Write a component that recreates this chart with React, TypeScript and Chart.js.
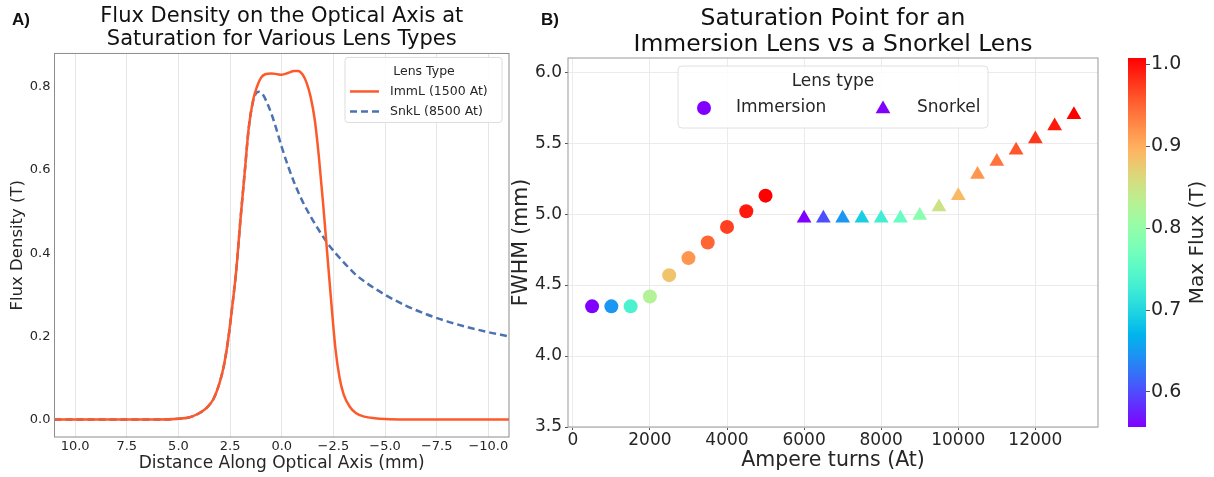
import React, { useEffect, useRef } from 'react';
import { Chart, registerables } from 'chart.js';
Chart.register(...registerables);

const FONT = "'DejaVu Sans', 'Noto Sans', sans-serif";
Chart.defaults.font.family = FONT;

// ---------- Panel A: flux density along the optical axis ----------
const immlX = [11, 9, 7, 6, 5, 4.5, 4.0, 3.6, 3.3, 3.0, 2.8, 2.6, 2.4, 2.2, 2.0, 1.8, 1.6, 1.4, 1.2, 1.0, 0.8, 0.5, 0.2, 0.0, -0.3, -0.6, -0.8, -1.0, -1.2, -1.4, -1.6, -1.8, -2.0, -2.2, -2.4, -2.6, -2.8, -3.0, -3.3, -3.6, -4.0, -4.5, -5.0, -6.0, -8.0, -11];
const immlY = [0, 0, 0, 0, 0.002, 0.005, 0.015, 0.03, 0.05, 0.09, 0.13, 0.19, 0.27, 0.36, 0.48, 0.59, 0.70, 0.765, 0.80, 0.822, 0.83, 0.832, 0.83, 0.829, 0.833, 0.838, 0.838, 0.83, 0.81, 0.775, 0.72, 0.63, 0.52, 0.40, 0.28, 0.17, 0.10, 0.06, 0.03, 0.015, 0.007, 0.003, 0.001, 0, 0, 0];
const snklX = [11, 9, 7, 6, 5, 4.5, 4.0, 3.6, 3.3, 3.0, 2.8, 2.6, 2.4, 2.2, 2.0, 1.8, 1.6, 1.4, 1.25, 1.1, 0.9, 0.7, 0.5, 0.3, 0.0, -0.3, -0.6, -1.0, -1.4, -1.8, -2.2, -2.6, -3.0, -3.5, -4.0, -5.0, -6.0, -7.0, -8.0, -9.0, -10.0, -11];
const snklY = [0, 0, 0, 0, 0.002, 0.005, 0.015, 0.03, 0.05, 0.09, 0.13, 0.19, 0.27, 0.36, 0.48, 0.59, 0.70, 0.762, 0.784, 0.788, 0.78, 0.76, 0.735, 0.705, 0.655, 0.61, 0.57, 0.525, 0.488, 0.455, 0.425, 0.40, 0.378, 0.352, 0.332, 0.30, 0.274, 0.253, 0.236, 0.222, 0.21, 0.2];
const fluxXTicks = [-10, -7.5, -5, -2.5, 0, 2.5, 5, 7.5, 10];
const fluxYTicks = [0, 0.2, 0.4, 0.6, 0.8];
const seriesALabels = ['ImmL (1500 At)', 'SnkL (8500 At)'];

// ---------- Panel B: saturation point ----------
const immTurns = [500, 1000, 1500, 2000, 2500, 3000, 3500, 4000, 4500, 5000];
const immFwhm = [4.35, 4.35, 4.35, 4.42, 4.57, 4.69, 4.80, 4.91, 5.02, 5.13];
const immFlux = [0.557, 0.647, 0.737, 0.828, 0.882, 0.918, 0.949, 0.972, 0.994, 1.008];
const snkTurns = [6000, 6500, 7000, 7500, 8000, 8500, 9000, 9500, 10000, 10500, 11000, 11500, 12000, 12500, 13000];
const snkFwhm = [4.97, 4.97, 4.97, 4.97, 4.97, 4.97, 4.99, 5.05, 5.13, 5.28, 5.37, 5.45, 5.53, 5.62, 5.70];
const snkFlux = [0.557, 0.602, 0.647, 0.692, 0.728, 0.760, 0.792, 0.850, 0.891, 0.918, 0.940, 0.958, 0.976, 0.994, 1.008];
const turnsTicks = [0, 2000, 4000, 6000, 8000, 10000, 12000];
const fwhmTicks = [3.5, 4.0, 4.5, 5.0, 5.5, 6.0];
const cbTicks = [0.6, 0.7, 0.8, 0.9, 1.0];
const cbMin = 0.557;
const cbMax = 1.008;

const IMM_COLOR = '#fd5a2b';
const SNK_COLOR = '#4c72b0';
const TXT = '#262626';

function rainbow(t: number) {
  const c = (v: number) => Math.max(0, Math.min(1, v));
  const r = c(Math.abs(2 * t - 0.5));
  const g = c(Math.sin(Math.PI * t));
  const b = c(Math.cos((Math.PI * t) / 2));
  return `rgb(${Math.round(r * 255)},${Math.round(g * 255)},${Math.round(b * 255)})`;
}
const fluxColor = (v: number) => rainbow((v - cbMin) / (cbMax - cbMin));

const setTicks = (arr: number[]) => (s: any) => {
  s.ticks = arr.map((value) => ({ value }));
};
const minus = (v: number, d: number) => (v < 0 ? '\u2212' : '') + Math.abs(v).toFixed(d);

function roundRect(ctx: CanvasRenderingContext2D, x: number, y: number, w: number, h: number, r: number) {
  ctx.beginPath();
  ctx.moveTo(x + r, y);
  ctx.lineTo(x + w - r, y);
  ctx.arcTo(x + w, y, x + w, y + r, r);
  ctx.lineTo(x + w, y + h - r);
  ctx.arcTo(x + w, y + h, x + w - r, y + h, r);
  ctx.lineTo(x + r, y + h);
  ctx.arcTo(x, y + h, x, y + h - r, r);
  ctx.lineTo(x, y + r);
  ctx.arcTo(x, y, x + r, y, r);
  ctx.closePath();
}

const framePlugin = (color: string) => ({
  id: 'frame',
  afterDatasetsDraw(chart: any) {
    const { ctx, chartArea: a } = chart;
    ctx.save();
    ctx.strokeStyle = color;
    ctx.lineWidth = 1;
    ctx.strokeRect(a.left, a.top, a.right - a.left, a.bottom - a.top);
    ctx.restore();
  },
});

const legendAPlugin = {
  id: 'legendA',
  afterDraw(chart: any) {
    const { ctx, chartArea: a } = chart;
    const ds = chart.data.datasets;
    const x0 = a.right - 164;
    const y0 = a.top + 4;
    ctx.save();
    roundRect(ctx, x0, y0, 157, 65, 3);
    ctx.fillStyle = 'rgba(255,255,255,0.85)';
    ctx.fill();
    ctx.strokeStyle = '#dddddd';
    ctx.lineWidth = 1;
    ctx.stroke();
    ctx.font = `12.5px ${FONT}`;
    ctx.fillStyle = TXT;
    ctx.textBaseline = 'middle';
    ctx.textAlign = 'center';
    ctx.fillText('Lens Type', x0 + 79, y0 + 14);
    ctx.textAlign = 'left';
    for (let i = 0; i < ds.length; i++) {
      const yy = y0 + 34 + i * 20;
      ctx.beginPath();
      ctx.strokeStyle = ds[i].borderColor;
      ctx.lineWidth = 2.5;
      ctx.setLineDash(ds[i].borderDash || []);
      ctx.moveTo(x0 + 5, yy);
      ctx.lineTo(x0 + 34, yy);
      ctx.stroke();
      ctx.setLineDash([]);
      ctx.fillStyle = TXT;
      ctx.fillText(ds[i].label, x0 + 45, yy);
    }
    ctx.restore();
  },
};

const legendBPlugin = {
  id: 'legendB',
  afterDraw(chart: any) {
    const { ctx, chartArea: a } = chart;
    const ds = chart.data.datasets;
    const x0 = a.left + 110;
    const y0 = a.top + 8;
    ctx.save();
    roundRect(ctx, x0, y0, 310, 62, 4);
    ctx.fillStyle = 'rgba(255,255,255,0.85)';
    ctx.fill();
    ctx.strokeStyle = '#e0e0e0';
    ctx.lineWidth = 1;
    ctx.stroke();
    ctx.font = `17px ${FONT}`;
    ctx.fillStyle = TXT;
    ctx.textBaseline = 'middle';
    ctx.textAlign = 'center';
    ctx.fillText('Lens type', x0 + 155, y0 + 16);
    ctx.textAlign = 'left';
    const mx = [x0 + 26, x0 + 205];
    const yy = y0 + 42;
    ctx.fillStyle = fluxColor(cbMin);
    ctx.beginPath();
    ctx.arc(mx[0], yy, 7, 0, Math.PI * 2);
    ctx.fill();
    ctx.beginPath();
    const r = 8.5;
    for (let k = 0; k < 3; k++) {
      const ang = (k * 2 * Math.PI) / 3;
      const px = mx[1] + Math.sin(ang) * r;
      const py = yy - Math.cos(ang) * r + 1;
      if (k === 0) ctx.moveTo(px, py);
      else ctx.lineTo(px, py);
    }
    ctx.closePath();
    ctx.fill();
    ctx.fillStyle = TXT;
    ctx.fillText(ds[0].label, mx[0] + 32, yy);
    ctx.fillText(ds[1].label, mx[1] + 34, yy);
    ctx.restore();
  },
};

const cbLabelPlugin = {
  id: 'cbLabel',
  afterDraw(chart: any) {
    const { ctx, chartArea: a } = chart;
    ctx.save();
    ctx.translate(88, (a.top + a.bottom) / 2);
    ctx.rotate(-Math.PI / 2);
    ctx.font = `20px ${FONT}`;
    ctx.fillStyle = TXT;
    ctx.textAlign = 'center';
    ctx.textBaseline = 'middle';
    ctx.fillText('Max Flux (T)', 0, 0);
    ctx.restore();
  },
};

export default function App() {
  const refA = useRef<HTMLCanvasElement>(null);
  const refB = useRef<HTMLCanvasElement>(null);
  const refC = useRef<HTMLCanvasElement>(null);

  useEffect(() => {
    const chartA = new Chart(refA.current as HTMLCanvasElement, {
      type: 'line',
      data: {
        datasets: [
          {
            label: seriesALabels[0],
            data: immlX.map((x, i) => ({ x, y: immlY[i] })),
            borderColor: IMM_COLOR,
            borderWidth: 2.5,
            pointRadius: 0,
            cubicInterpolationMode: 'monotone',
            fill: false,
          },
          {
            label: seriesALabels[1],
            data: snklX.map((x, i) => ({ x, y: snklY[i] })),
            borderColor: SNK_COLOR,
            borderWidth: 2.5,
            borderDash: [7, 4],
            pointRadius: 0,
            cubicInterpolationMode: 'monotone',
            fill: false,
          },
        ],
      },
      options: {
        responsive: false,
        animation: false,
        layout: { padding: { left: 0, right: 11, top: 0, bottom: 0 } },
        plugins: {
          legend: { display: false },
          tooltip: { enabled: false },
          title: {
            display: true,
            fullSize: false,
            text: ['Flux Density on the Optical Axis at', 'Saturation for Various Lens Types'],
            font: { size: 21, weight: 'normal', lineHeight: 1.08 },
            color: '#111',
            padding: { top: 5.6, bottom: 2.5 },
          },
        },
        scales: {
          x: {
            type: 'linear',
            reverse: true,
            min: -11,
            max: 11,
            afterBuildTicks: setTicks(fluxXTicks),
            afterFit: (s: any) => { s.height = 40; },
            grid: { color: '#e6e6e6', lineWidth: 1, drawTicks: false },
            border: { display: false },
            ticks: { font: { size: 13 }, color: TXT, padding: 2, maxRotation: 0, autoSkip: false, callback: (v: any) => minus(Number(v), 1) },
            title: { display: true, text: 'Distance Along Optical Axis (mm)', font: { size: 17 }, color: TXT, padding: { top: 0, bottom: 3 } },
          },
          y: {
            min: -0.042,
            max: 0.88,
            afterBuildTicks: setTicks(fluxYTicks),
            afterFit: (s: any) => { s.width = 54.5; },
            grid: { display: false, drawTicks: false },
            border: { display: false },
            ticks: { font: { size: 13 }, color: TXT, padding: 4, callback: (v: any) => Number(v).toFixed(1) },
            title: { display: true, text: 'Flux Density (T)', font: { size: 16.5 }, color: TXT, padding: { top: 8, bottom: 0 } },
          },
        },
      } as any,
      plugins: [framePlugin('#8c8c8c'), legendAPlugin],
    });

    const chartB = new Chart(refB.current as HTMLCanvasElement, {
      type: 'scatter',
      data: {
        datasets: [
          {
            label: 'Immersion',
            data: immTurns.map((x, i) => ({ x, y: immFwhm[i] })),
            pointStyle: 'circle',
            pointRadius: 7,
            pointBackgroundColor: immFlux.map(fluxColor),
            pointBorderColor: immFlux.map(fluxColor),
            pointBorderWidth: 0,
          },
          {
            label: 'Snorkel',
            data: snkTurns.map((x, i) => ({ x, y: snkFwhm[i] })),
            pointStyle: 'triangle',
            pointRadius: 8.5,
            pointBackgroundColor: snkFlux.map(fluxColor),
            pointBorderColor: snkFlux.map(fluxColor),
            pointBorderWidth: 0,
          },
        ],
      },
      options: {
        responsive: false,
        animation: false,
        layout: { padding: { left: 0, right: 12, top: 0, bottom: 0 } },
        plugins: {
          legend: { display: false },
          tooltip: { enabled: false },
          title: {
            display: true,
            fullSize: false,
            text: ['Saturation Point for an', 'Immersion Lens vs a Snorkel Lens'],
            font: { size: 23.5, weight: 'normal', lineHeight: 1.1 },
            color: '#111',
            padding: { top: 6, bottom: 0.3 },
          },
        },
        scales: {
          x: {
            type: 'linear',
            min: -125,
            max: 13625,
            afterBuildTicks: setTicks(turnsTicks),
            afterFit: (s: any) => { s.height = 50; },
            grid: { color: '#ebebeb', lineWidth: 1, tickColor: '#555', tickLength: 3 },
            border: { display: false },
            ticks: { font: { size: 17 }, color: TXT, padding: 0, maxRotation: 0, autoSkip: false, callback: (v: any) => String(v) },
            title: { display: true, text: 'Ampere turns (At)', font: { size: 20.5 }, color: TXT, padding: { top: 0, bottom: 3.7 } },
          },
          y: {
            min: 3.5,
            max: 6.1,
            afterBuildTicks: setTicks(fwhmTicks),
            afterFit: (s: any) => { s.width = 68; },
            grid: { color: '#ebebeb', lineWidth: 1, tickColor: '#555', tickLength: 3 },
            border: { display: false },
            ticks: { font: { size: 17 }, color: TXT, padding: 3, callback: (v: any) => Number(v).toFixed(1) },
            title: { display: true, text: 'FWHM (mm)', font: { size: 20.5 }, color: TXT, padding: { top: 9.7, bottom: 0 } },
          },
        },
      } as any,
      plugins: [framePlugin('#999999'), legendBPlugin],
    });

    const chartC = new Chart(refC.current as HTMLCanvasElement, {
      type: 'bar',
      data: {
        labels: ['Max Flux (T)'],
        datasets: [
          {
            data: [[cbMin, cbMax]] as any,
            barPercentage: 1,
            categoryPercentage: 1,
            borderWidth: 0,
            backgroundColor: (c: any) => {
              const chart = c.chart;
              const area = chart.chartArea;
              if (!area) return 'transparent';
              const g = chart.ctx.createLinearGradient(0, area.bottom, 0, area.top);
              for (let i = 0; i <= 40; i++) g.addColorStop(i / 40, rainbow(i / 40));
              return g;
            },
          },
        ],
      },
      options: {
        responsive: false,
        animation: false,
        layout: { padding: { left: 18, right: 0, top: 58, bottom: 50 } },
        plugins: { legend: { display: false }, tooltip: { enabled: false }, title: { display: false } },
        scales: {
          x: { display: false },
          y: {
            position: 'right',
            min: cbMin,
            max: cbMax,
            afterBuildTicks: setTicks(cbTicks),
            afterFit: (s: any) => { s.width = 68; },
            grid: { drawOnChartArea: false, tickLength: 4, tickColor: '#555' },
            border: { display: false },
            ticks: { font: { size: 19 }, color: TXT, padding: 1, callback: (v: any) => Number(v).toFixed(1) },
          },
        },
      } as any,
      plugins: [cbLabelPlugin],
    });

    return () => {
      chartA.destroy();
      chartB.destroy();
      chartC.destroy();
    };
  }, []);

  const panelLabel: React.CSSProperties = {
    position: 'absolute',
    fontFamily: "'Liberation Sans', Arial, sans-serif",
    fontWeight: 'bold',
    fontSize: 17,
    color: '#111',
    lineHeight: '20px',
  };

  return (
    <div style={{ position: 'absolute', left: 0, top: 0, width: 1214, height: 477, background: '#fff', overflow: 'hidden' }}>
      <canvas ref={refA} width={520} height={477} style={{ position: 'absolute', left: 0, top: 0 }} />
      <canvas ref={refB} width={610} height={477} style={{ position: 'absolute', left: 500, top: 0 }} />
      <canvas ref={refC} width={104} height={477} style={{ position: 'absolute', left: 1110, top: 0 }} />
      <div style={{ ...panelLabel, left: 12, top: 10 }}>A)</div>
      <div style={{ ...panelLabel, left: 541, top: 10 }}>B)</div>
    </div>
  );
}
